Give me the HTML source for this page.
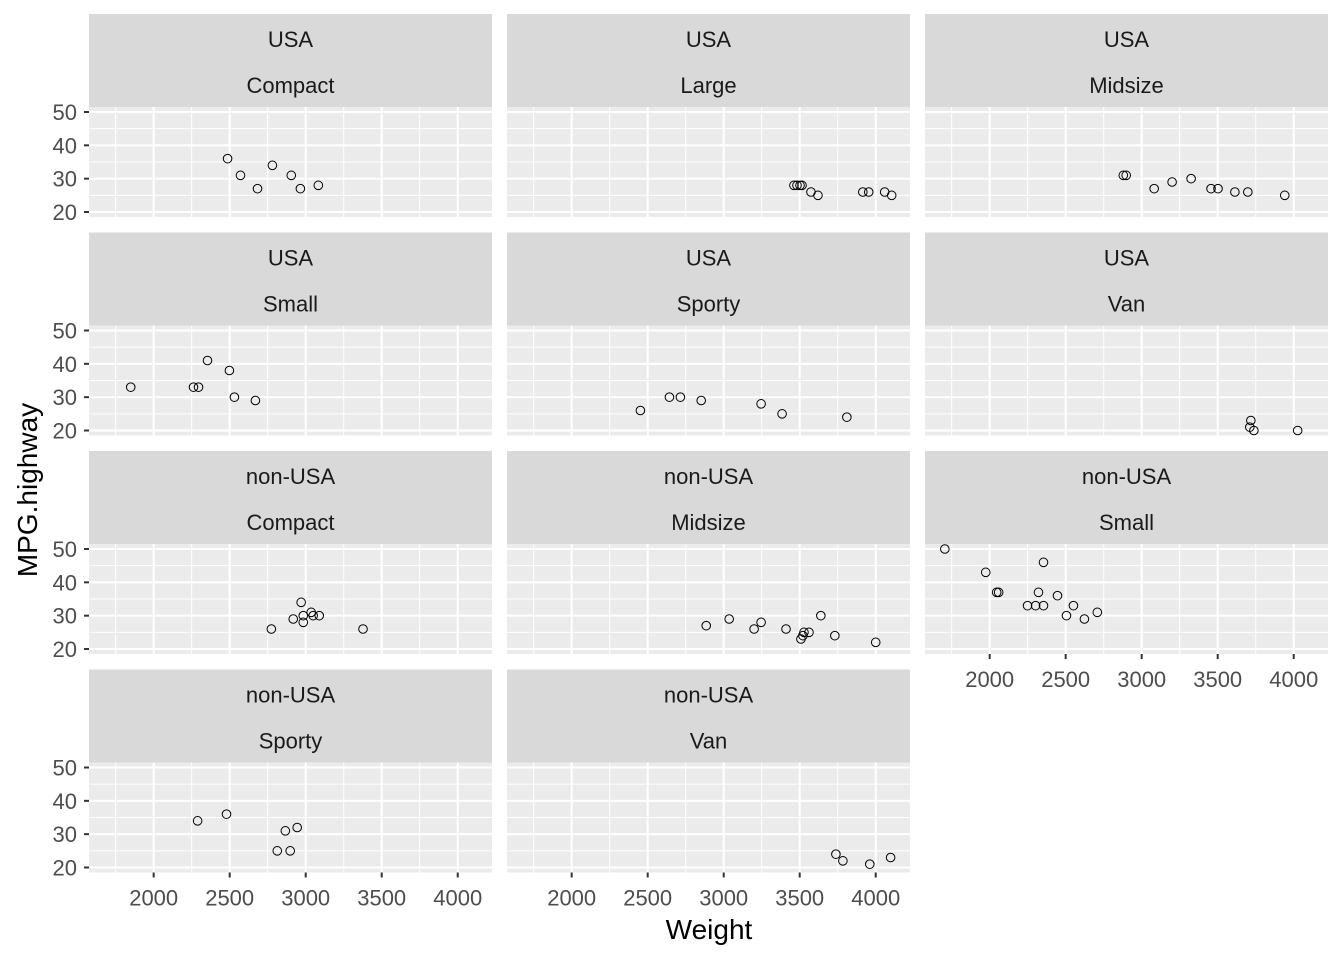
<!DOCTYPE html>
<html><head><meta charset="utf-8"><style>
body{margin:0;background:#fff;}
svg text{font-family:"Liberation Sans",Arial,sans-serif;}
</style></head><body>
<svg id="chart" width="1344" height="960" xmlns="http://www.w3.org/2000/svg"></svg>
<script>
const panelTitles = [["USA","Compact"],["USA","Large"],["USA","Midsize"],["USA","Small"],["USA","Sporty"],["USA","Van"],["non-USA","Compact"],["non-USA","Midsize"],["non-USA","Small"],["non-USA","Sporty"],["non-USA","Van"]];
const weights = [
 [2486,2571,2683,2781,2905,2965,3083],
 [3462,3482,3502,3515,3574,3620,3915,3954,4059,4105],
 [2879,2898,3082,3200,3325,3456,3502,3613,3698,3941],
 [1849,2262,2295,2354,2498,2531,2669],
 [2452,2643,2715,2852,3246,3384,3810],
 [3718,3711,3738,4026],
 [2774,2918,2970,2984,2984,3036,3049,3089,3377],
 [2885,3036,3200,3246,3410,3508,3521,3528,3561,3639,3731,4000],
 [1705,1974,2046,2059,2249,2302,2321,2354,2354,2446,2505,2551,2623,2708],
 [2289,2479,2813,2866,2898,2944],
 [3738,3784,3961,4098]
];
const mpgHighway = [
 [36,31,27,34,31,27,28],
 [28,28,28,28,26,25,26,26,26,25],
 [31,31,27,29,30,27,27,26,26,25],
 [33,33,33,41,38,30,29],
 [26,30,30,29,28,25,24],
 [23,21,20,20],
 [26,29,34,30,28,31,30,30,26],
 [27,29,26,28,26,23,24,25,25,30,24,22],
 [50,43,37,37,33,33,37,46,33,36,30,33,29,31],
 [34,36,25,31,25,32],
 [24,22,21,23]
];
const xTicks = [2000,2500,3000,3500,4000];
const yTicks = [20,30,40,50];

const NS="http://www.w3.org/2000/svg";
const svg=document.getElementById('chart');
function mk(tag,attrs,parent){const e=document.createElementNS(NS,tag);for(const k in attrs)e.setAttribute(k,attrs[k]);(parent||svg).appendChild(e);return e;}
const PW=403, PH=110, colX=[89,507,925], stripH=93;
const rowTop=[14,232.5,451,669.5];
const xMin=1574.5,xMax=4225.5,yMin=18.5,yMax=51.5;
function sx(v,c){return colX[c]+(v-xMin)/(xMax-xMin)*PW;}
function sy(v,r){const pt=rowTop[r]+stripH;return pt+(yMax-v)/(yMax-yMin)*PH;}
panelTitles.forEach((t,i)=>{
 const r=Math.floor(i/3),c=i%3;
 const g=mk('g',{});
 
 
 const strip=mk('rect',{x:colX[c],y:rowTop[r],width:PW,height:stripH,fill:'#d9d9d9'},g);
 
 
 const t1=mk('text',{x:colX[c]+PW/2,y:rowTop[r]+33,'text-anchor':'middle','font-size':22,fill:'#1a1a1a'},g);t1.textContent=t[0];
 
 
 const t2=mk('text',{x:colX[c]+PW/2,y:rowTop[r]+79,'text-anchor':'middle','font-size':22,fill:'#1a1a1a'},g);t2.textContent=t[1];
 
 
 const pt=rowTop[r]+stripH;
 const bg=mk('rect',{x:colX[c],y:pt,width:PW,height:PH,fill:'#ebebeb'},g);
 
 
 for(let k=0;k<xTicks.length-1;k++){const v=(xTicks[k]+xTicks[k+1])/2;const x=sx(v,c);mk('line',{x1:x,x2:x,y1:pt,y2:pt+PH,stroke:'#fff','stroke-width':1},g);}
 const x0=sx(1750,c);mk('line',{x1:x0,x2:x0,y1:pt,y2:pt+PH,stroke:'#fff','stroke-width':1},g);
 for(let k=0;k<yTicks.length-1;k++){const v=(yTicks[k]+yTicks[k+1])/2;const y=sy(v,r);mk('line',{x1:colX[c],x2:colX[c]+PW,y1:y,y2:y,stroke:'#fff','stroke-width':1},g);}
 xTicks.forEach(v=>{const x=sx(v,c);mk('line',{x1:x,x2:x,y1:pt,y2:pt+PH,stroke:'#fff','stroke-width':2},g);});
 yTicks.forEach(v=>{const y=sy(v,r);mk('line',{x1:colX[c],x2:colX[c]+PW,y1:y,y2:y,stroke:'#fff','stroke-width':2},g);});
 weights[i].forEach((w,j)=>{
  const p=mk('circle',{cx:sx(w,c),cy:sy(mpgHighway[i][j],r),r:4.3,fill:'none',stroke:'#000','stroke-width':1},g);
  
  
 });
 if(c===0){
  yTicks.forEach(v=>{const y=sy(v,r);mk('line',{x1:colX[0]-5,x2:colX[0],y1:y,y2:y,stroke:'#333','stroke-width':2},g);
   const tl=mk('text',{x:colX[0]-12,y:y+8,'text-anchor':'end','font-size':22,fill:'#4d4d4d'},g);tl.textContent=v;
   
   });
 }
 const isBottom=(r===3)||(r===2&&c===2);
 if(isBottom){
  xTicks.forEach(v=>{const x=sx(v,c);mk('line',{x1:x,x2:x,y1:pt+PH,y2:pt+PH+5,stroke:'#333','stroke-width':2},g);
   const tl=mk('text',{x:x,y:pt+PH+33,'text-anchor':'middle','font-size':22,fill:'#4d4d4d'},g);tl.textContent=v;
   
   });
 }
});
const xt=mk('text',{x:709,y:939,'text-anchor':'middle','font-size':28,fill:'#000'});xt.textContent='Weight';


const yt=mk('text',{x:0,y:0,'text-anchor':'middle','font-size':28,fill:'#000',transform:'translate(37,490) rotate(-90)'});yt.textContent='MPG.highway';


</script>
</body></html>
